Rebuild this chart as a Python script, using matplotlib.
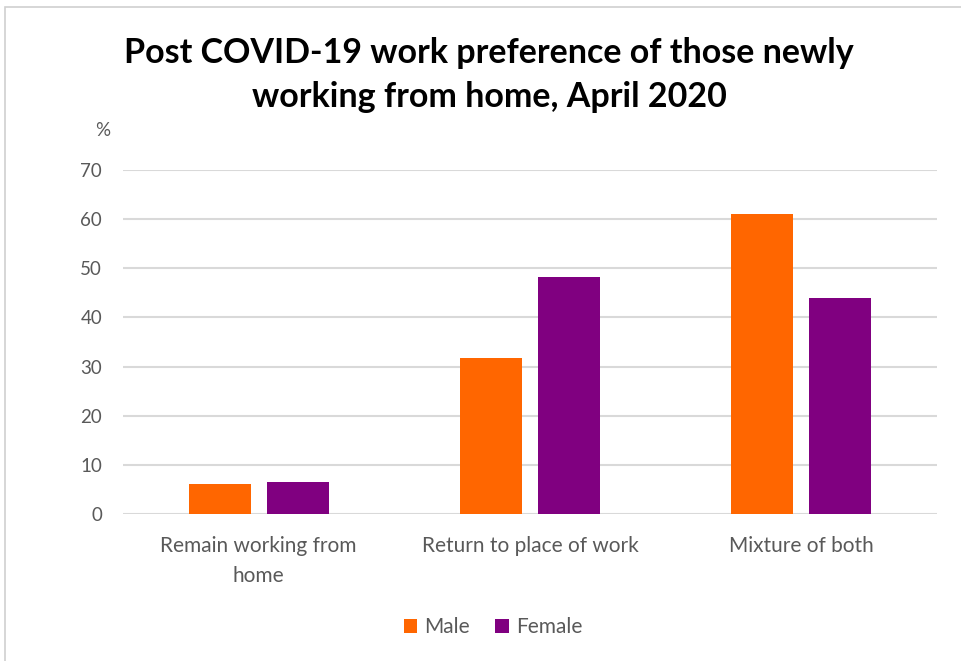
import matplotlib
matplotlib.use("Agg")
import matplotlib.pyplot as plt
import numpy as np
from matplotlib.patches import Rectangle

categories = ["Remain working from\nhome", "Return to place of work", "Mixture of both"]
series_names = ["Male", "Female"]
male = [6.1, 31.8, 61.0]
female = [6.6, 48.3, 43.9]
yticks = [0, 10, 20, 30, 40, 50, 60, 70]

colors = ["#FF6600", "#800080"]
txt = "#595959"
font = ["Lato", "DejaVu Sans"]

fig = plt.figure(figsize=(9.61, 6.61), dpi=100)
ax = fig.add_axes([123/961, 1-514/661, (937-123)/961, (514-170)/661])

x = np.arange(len(categories))
w = 0.229
off = 0.144
ax.bar(x - off, male, w, color=colors[0], label=series_names[0], zorder=3)
ax.bar(x + off, female, w, color=colors[1], label=series_names[1], zorder=3)

ax.set_xlim(-0.5, 2.5)
ax.set_ylim(0, 70)
ax.set_yticks(yticks)
ax.set_yticklabels([str(t) for t in yticks], fontsize=13.5, color=txt, family=font)
ax.set_xticks(x)
ax.set_xticklabels(categories, fontsize=15, color=txt, family=font, linespacing=1.6)
ax.tick_params(axis='both', length=0)
ax.tick_params(axis='y', pad=15)
ax.tick_params(axis='x', pad=16)
ax.grid(axis='y', color="#D9D9D9", linewidth=1.5, zorder=0)
for s in ax.spines.values():
    s.set_visible(False)

fig.text(489/961, 1-75/661, "Post COVID-19 work preference of those newly\nworking from home, April 2020",
         ha='center', va='center', fontsize=24.5, fontweight='bold', family=font,
         color="black", linespacing=1.45)
fig.text(103/961, 1-131/661, "%", ha='center', va='center', fontsize=13.5, color=txt, family=font)

leg = fig.legend(loc='center', bbox_to_anchor=(493/961, 1-627/661), ncol=2, frameon=False,
                 prop={'family': font, 'size': 15}, handlelength=0.65, handleheight=0.65,
                 handletextpad=0.35, columnspacing=1.2)
for t in leg.get_texts():
    t.set_color(txt)

fig.patches.append(Rectangle((5/961, -0.01), 1.0, 1-7/661 + 0.01, transform=fig.transFigure,
                             fill=False, edgecolor="#D0D0D0", linewidth=1.2))

fig.savefig("out.png", dpi=100)
